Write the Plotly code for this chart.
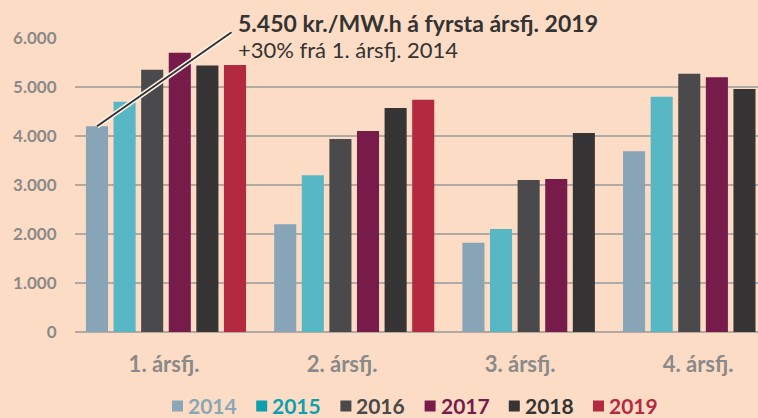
import plotly.graph_objects as go

# ---------------- data ----------------
quarters = ["1. ársfj.", "2. ársfj.", "3. ársfj.", "4. ársfj."]
years = ["2014", "2015", "2016", "2017", "2018", "2019"]
v2014 = [4200, 2200, 1820, 3690]
v2015 = [4700, 3200, 2100, 4800]
v2016 = [5350, 3940, 3100, 5270]
v2017 = [5700, 4100, 3120, 5200]
v2018 = [5440, 4570, 4060, 4960]
v2019 = [5450, 4740, None, None]
y_tickvals = [0, 1000, 2000, 3000, 4000, 5000, 6000]
y_ticktext = ["0", "1.000", "2.000", "3.000", "4.000", "5.000", "6.000"]
note_title = "5.450 kr./MW.h á fyrsta ársfj. 2019"
note_sub = "+30% frá 1. ársfj. 2014"

series = [v2014, v2015, v2016, v2017, v2018, v2019]

# ---------------- style ----------------
bar_colors = ["#87a5b6", "#58b7c5", "#4a494b", "#771c4a", "#363435", "#b32a40"]
legend_colors = ["#8aa7b8", "#0e9fae", "#4a494b", "#771c4a", "#363435", "#b32a40"]
BG = "#fddcc5"
GRID = "#b0a9a4"
AXIS_TXT = "#8a8a8a"
FONT = "Lato"

W, H = 758, 418
ML, MR, MT, MB = 75, 0, 38, 86
PW, PH = W - ML - MR, H - MT - MB

GROUP_GAP = 0.82      # extra slot space between quarters
BAR_W = 0.8
X_MIN, X_MAX = -0.797, 23.95
CAT_W = 6.45


def px2paper_x(px):
    return (px - ML) / PW


def px2paper_y(py):
    return (H - MB - py) / PH


# sequential bar slots: bars present in each quarter are packed side by side
xs = [[None] * len(quarters) for _ in years]
offset = 0.0
for qi in range(len(quarters)):
    j = 0
    for yi in range(len(years)):
        if series[yi][qi] is not None:
            xs[yi][qi] = offset + j
            j += 1
    offset += j + GROUP_GAP

fig = go.Figure()
for yi, yr in enumerate(years):
    px_list, py_list = [], []
    for qi in range(len(quarters)):
        if series[yi][qi] is not None:
            px_list.append(xs[yi][qi])
            py_list.append(series[yi][qi])
    fig.add_trace(go.Bar(
        x=px_list, y=py_list, name=yr, width=BAR_W,
        marker=dict(color=bar_colors[yi], line=dict(width=0)),
        showlegend=False, hoverinfo="skip",
    ))

tick_x = [X_MIN + (k + 0.5) * CAT_W for k in range(len(quarters))]

fig.update_layout(
    width=W, height=H,
    margin=dict(l=ML, r=MR, t=MT, b=MB, pad=0),
    paper_bgcolor=BG, plot_bgcolor=BG,
    barmode="overlay",
    font=dict(family=FONT, color=AXIS_TXT),
    xaxis=dict(
        range=[X_MIN, X_MAX], tickvals=tick_x, ticktext=quarters,
        showgrid=False, zeroline=False, showline=False,
        ticks="outside", ticklen=13, tickcolor="rgba(0,0,0,0)",
        tickfont=dict(family=FONT, size=22, color=AXIS_TXT, weight="bold"),
    ),
    yaxis=dict(
        range=[0, 6000], tickvals=y_tickvals, ticktext=y_ticktext,
        showgrid=True, gridcolor=GRID, gridwidth=2,
        zeroline=True, zerolinecolor=GRID, zerolinewidth=2,
        showline=False,
        ticks="outside", ticklen=14, tickcolor="rgba(0,0,0,0)",
        tickfont=dict(family=FONT, size=17, color=AXIS_TXT, weight="bold"),
    ),
)

# annotation connector (halo + dark line) from the Q1 2014 bar top
for lw, col in [(5, "#fff4ea"), (2, "#333333")]:
    fig.add_annotation(
        x=xs[0][0], y=v2014[0], xref="x", yref="y",
        ax=136, ay=-95, axref="pixel", ayref="pixel",
        text="", showarrow=True, arrowhead=0, arrowwidth=lw, arrowcolor=col,
        standoff=0, startstandoff=0,
    )

fig.add_annotation(
    x=px2paper_x(236), y=px2paper_y(23), xref="paper", yref="paper",
    xanchor="left", yanchor="middle", showarrow=False,
    text="<b>" + note_title + "</b>",
    font=dict(family=FONT, size=23, color="#333333"),
)
fig.add_annotation(
    x=px2paper_x(236), y=px2paper_y(49), xref="paper", yref="paper",
    xanchor="left", yanchor="middle", showarrow=False,
    text=note_sub,
    font=dict(family=FONT, size=22, color="#333333"),
)

# custom legend
LEG_X0, LEG_STEP, LEG_Y = 172, 84.2, 405
for yi, yr in enumerate(years):
    x0 = LEG_X0 + yi * LEG_STEP
    fig.add_shape(
        type="rect", xref="paper", yref="paper",
        x0=px2paper_x(x0), x1=px2paper_x(x0 + 11),
        y0=px2paper_y(LEG_Y + 6.5), y1=px2paper_y(LEG_Y - 4.5),
        fillcolor=legend_colors[yi], line=dict(width=0),
    )
    fig.add_annotation(
        x=px2paper_x(x0 + 14), y=px2paper_y(LEG_Y), xref="paper", yref="paper",
        xanchor="left", yanchor="middle", showarrow=False,
        text="<b>" + yr + "</b>",
        font=dict(family=FONT, size=21, color=legend_colors[yi]),
    )

fig.write_html(
    "out.html",
    config={"displayModeBar": False},
    post_script="document.body.style.margin='0';document.body.style.overflow='hidden';",
)
